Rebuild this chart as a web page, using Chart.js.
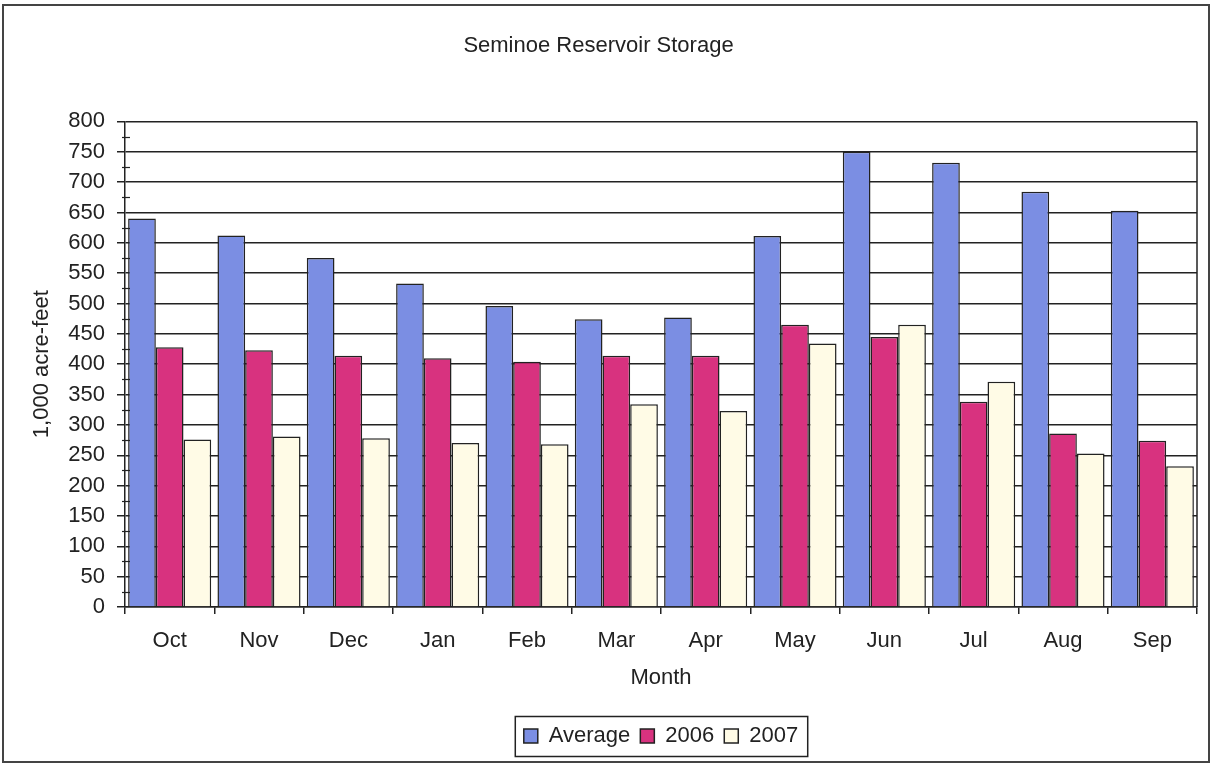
<!DOCTYPE html>
<html><head><meta charset="utf-8">
<script src="https://cdn.jsdelivr.net/npm/chart.js@4.4.1/dist/chart.umd.min.js"></script>
<style>html,body{margin:0;padding:0;background:#fff}#wrap{width:1214px;height:766px;position:relative}</style>
</head><body><div id="wrap"><canvas id="c" width="1214" height="766"></canvas></div>
<script>
const months = ['Oct','Nov','Dec','Jan','Feb','Mar','Apr','May','Jun','Jul','Aug','Sep'];
const average = [640,612,575,533,496,474,477,611,750,732,684,653];
const y2006 = [428,423,414,410,404,414,414,465,445,338,286,274];
const y2007 = [276,281,278,270,268,334,323,434,465,371,253,232];
const seriesNames = ['Average','2006','2007'];
const yMin = 0, yMax = 800, yStep = 50;

const FONT = '"Liberation Sans", Arial, sans-serif';
const INK = '#222';

const decor = {
  id: 'decor',
  beforeDraw(chart) {
    const c = chart.ctx;
    c.save(); c.fillStyle = '#fff'; c.fillRect(0,0,chart.width,chart.height); c.restore();
  },
  afterDraw(chart) {
    const c = chart.ctx, a = chart.chartArea, ys = chart.scales.y;
    c.save();
    c.strokeStyle = INK; c.lineWidth = 1.5;
    // plot right border
    c.beginPath(); c.moveTo(a.right, a.top); c.lineTo(a.right, a.bottom); c.stroke();
    // minor ticks on y axis
    c.lineWidth = 1.2;
    for (let v = yMin + yStep/2; v < yMax; v += yStep) {
      const py = Math.round(ys.getPixelForValue(v)) + 0.5;
      c.beginPath(); c.moveTo(a.left - 3, py); c.lineTo(a.left + 5, py); c.stroke();
    }
    // legend border
    const hb = chart.legend.legendHitBoxes;
    if (hb && hb.length) {
      const l = hb[0].left - 9, r = hb[hb.length-1].left + hb[hb.length-1].width + 9;
      const t = hb[0].top - 9, b = hb[0].top + hb[0].height + 9;
      c.lineWidth = 1.5;
      c.strokeRect(l + 0.5, t + 0.5, r - l, b - t);
    }
    // outer frame
    c.strokeStyle = '#444'; c.lineWidth = 2;
    c.strokeRect(3, 5, 1206, 757);
    c.restore();
  }
};

new Chart(document.getElementById('c'), {
  type: 'bar',
  data: {
    labels: months,
    datasets: [
      { label: seriesNames[0], data: average, backgroundColor: '#7b8ee3', borderColor: INK, borderWidth: 1.5 },
      { label: seriesNames[1], data: y2006, backgroundColor: '#d8327f', borderColor: INK, borderWidth: 1.5 },
      { label: seriesNames[2], data: y2007, backgroundColor: '#fffbe6', borderColor: INK, borderWidth: 1.5 }
    ]
  },
  options: {
    responsive: false,
    animation: false,
    devicePixelRatio: 1,
    layout: { padding: { left: 0, right: 17, top: 0, bottom: 9 } },
    datasets: { bar: { categoryPercentage: 0.93, barPercentage: 1.0 } },
    plugins: {
      title: { display: true, text: 'Seminoe Reservoir Storage', color: INK,
        font: { family: FONT, size: 22, weight: 'normal' }, padding: { top: 33, bottom: 62 } },
      legend: { position: 'bottom', fullSize: false,
        labels: { color: INK, font: { family: FONT, size: 22 }, boxWidth: 14, boxHeight: 14, padding: 10 } },
      tooltip: { enabled: false }
    },
    scales: {
      x: {
        offset: true,
        grid: { display: true, drawOnChartArea: false, color: INK, lineWidth: 1.5, tickLength: 7, offset: true },
        border: { color: INK, width: 1.5 },
        ticks: { color: INK, font: { family: FONT, size: 22 }, padding: 14, maxRotation: 0 },
        title: { display: true, text: 'Month', color: INK, font: { family: FONT, size: 22 }, padding: { top: 0, bottom: 24 } },
        afterFit(s) { s.height = 108; }
      },
      y: {
        min: yMin, max: yMax,
        ticks: { stepSize: yStep, color: INK, font: { family: FONT, size: 22 }, padding: 12 },
        grid: { color: INK, lineWidth: 1.5, tickLength: 8 },
        border: { color: INK, width: 1.5 },
        title: { display: true, text: '1,000 acre-feet', color: INK, font: { family: FONT, size: 22 }, padding: { top: 29, bottom: 0 } },
        afterFit(s) { s.width = 125; }
      }
    }
  },
  plugins: [decor]
});
</script></body></html>
